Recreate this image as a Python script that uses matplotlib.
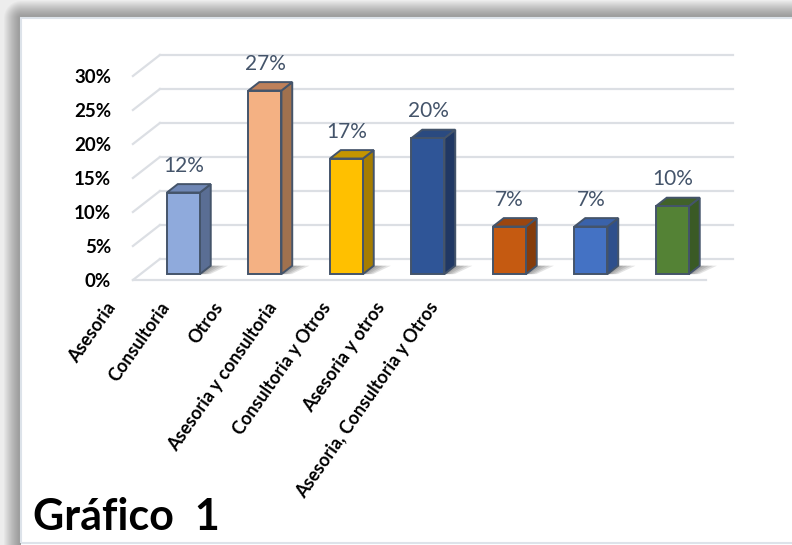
import numpy as np
import matplotlib
matplotlib.use('Agg')
import matplotlib.pyplot as plt
from matplotlib.patches import Polygon, Rectangle

plt.rcParams['font.family'] = ['Lato', 'DejaVu Sans']

# Datos del gráfico
categorias = ['Asesoria', 'Consultoria', 'Otros', 'Asesoria y consultoria',
              'Consultoria y Otros', 'Asesoria y otros', 'Asesoria, Consultoria y Otros']
valores = [12, 27, 17, 20, 7, 7, 10]
marcas_y = [0, 5, 10, 15, 20, 25, 30]

# colores: cara frontal, lateral, superior
frente = ['#8FAADC', '#F4B183', '#FFC000', '#2F5597', '#C55A11', '#4472C4', '#548235']
lado = ['#5A6E94', '#A0714E', '#A67D00', '#203864', '#843C0C', '#2E4F8C', '#3A5A25']
tapa = ['#6F87B5', '#BE805A', '#C49500', '#2A4A80', '#9B4610', '#3A62AA', '#41622A']
borde = '#44546A'

W, H = 792, 545
fig = plt.figure(figsize=(W / 100, H / 100), dpi=100)

# marco con sombra gris alrededor del panel blanco
bg = fig.add_axes([0, 0, 1, 1], zorder=-2)
yy, xx = np.mgrid[0:H, 0:W]
dt = np.clip(18 - yy, 0, None)
dl = np.clip(21 - xx, 0, None)
d = np.hypot(dt, dl)
gris = 0.60 + 0.33 * np.clip(d / 18, 0, 1) ** 1.4
gris[(dt == 0) & (dl == 0)] = 1.0
bg.imshow(np.dstack([gris] * 3), extent=[0, W, H, 0], aspect='auto', interpolation='bilinear')
bg.set_xlim(0, W)
bg.set_ylim(H, 0)
bg.axis('off')
fig.patches.append(Rectangle((21 / W, 2 / H), 1, (H - 20) / H, transform=fig.transFigure,
                             fill=False, edgecolor='#dde3ea', lw=1.5, zorder=-1))

# ejes: x = categoría, y = porcentaje en el plano frontal del piso
xlim = (-1.0, 7.0)
ylim = (-2, 34)
px_x, px_y = 81.5, 6.8
x0_px, y0_px = 175.3, 280
left = (x0_px + xlim[0] * px_x) / W
right = (x0_px + xlim[1] * px_x) / W
bottom = (H - (y0_px - ylim[0] * px_y)) / H
top = (H - (y0_px - ylim[1] * px_y)) / H
ax = fig.add_axes([left, bottom, right - left, top - bottom])
ax.patch.set_visible(False)
for s in ax.spines.values():
    s.set_visible(False)

# profundidad de la vista oblicua
dx, dy = 0.331, 3.09
xl, xr = -0.52, 6.51
gc = '#dcdfe4'
for t in marcas_y:
    ax.plot([xl + dx, xr + dx], [t + dy, t + dy], color=gc, lw=1.6, zorder=1)
    ax.plot([xl, xl + dx], [t, t + dy], color=gc, lw=1.6, zorder=1)
ax.plot([xl, xr], [0, 0], color=gc, lw=1.6, zorder=1)

# barras 3D
ancho = 0.405
desp = 0.10
prof_x, prof_y = 0.4 * dx, 0.4 * dy
base = 0.28 * dy
for i, v in enumerate(valores):
    cx = i + desp
    x0 = cx - ancho / 2
    x1 = cx + ancho / 2
    y0 = base
    y1 = base + v
    # sombra en el piso
    for k in range(4):
        ext = 0.06 + 0.05 * k
        ax.add_patch(Polygon([(x1, y0), (x1 + prof_x, y0 + prof_y),
                              (x1 + prof_x + ext, y0 + prof_y), (x1 + ext * 0.6, y0)],
                             closed=True, facecolor='#303030', edgecolor='none',
                             alpha=0.13, zorder=2))
    ax.add_patch(Polygon([(x1, y0), (x1 + prof_x, y0 + prof_y), (x1 + prof_x, y1 + prof_y), (x1, y1)],
                         closed=True, facecolor=lado[i], edgecolor=borde, lw=1.4, zorder=3))
    ax.add_patch(Polygon([(x0, y1), (x1, y1), (x1 + prof_x, y1 + prof_y), (x0 + prof_x, y1 + prof_y)],
                         closed=True, facecolor=tapa[i], edgecolor=borde, lw=1.4, zorder=3))
    ax.add_patch(Rectangle((x0, y0), ancho, v, facecolor=frente[i], edgecolor=borde, lw=1.4, zorder=4))
    ax.annotate(f'{v}%', xy=(cx, y1 + prof_y), xytext=(0, 6), textcoords='offset points',
                ha='center', va='bottom', fontsize=15, color=borde, zorder=5)

# eje y en el plano frontal; etiquetas terminan en x = 111 px
ax.set_yticks(marcas_y)
ax.set_yticklabels([f'{t}%' for t in marcas_y], fontsize=13.5, fontweight='bold')
ax.tick_params(axis='y', length=0, pad=(left * W - 111) * 0.72)

# etiquetas de categoría giradas
pos_etq = np.arange(len(categorias)) * 0.66 - 0.86
ax.set_xticks(pos_etq)
ax.set_xticklabels(categorias, rotation=55, ha='right', va='top', rotation_mode='anchor',
                   fontsize=13, fontweight='bold')
ax.tick_params(axis='x', length=0, pad=4)

# límites al final para que los ticks no los amplíen
ax.set_xlim(*xlim)
ax.set_ylim(*ylim)

fig.text(33 / W, (H - 530) / H, 'Gráfico  1', fontsize=31, fontweight='bold', va='baseline')

fig.savefig('out.png', dpi=100)
